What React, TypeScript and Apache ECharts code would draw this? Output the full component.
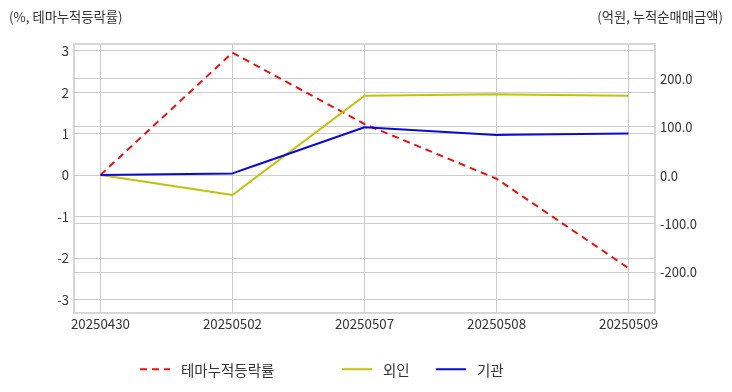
import React, { useEffect, useRef } from "react";
import * as echarts from "echarts";

const categories = ["20250430", "20250502", "20250507", "20250508", "20250509"];
const themeRate = [0, 2.95, 1.23, -0.09, -2.25];
const foreignNet = [0, -41, 164, 167, 164];
const instNet = [0, 3.5, 99, 83, 86];
const leftTicks = [-3, -2, -1, 0, 1, 2, 3];
const rightTicks = [-200, -100, 0, 100, 200];
const xTicks = [0, 1, 2, 3, 4];

const FONT = "'Noto Sans CJK KR', 'Noto Sans', sans-serif";

export default function App() {
  const ref = useRef<HTMLDivElement>(null);
  useEffect(() => {
    if (!ref.current) return;
    const chart = echarts.init(ref.current, undefined, { renderer: "svg" });
    const toPairs = (arr: number[]) => arr.map((v, i) => [i, v]);
    const legendBase = {
      top: 357,
      itemWidth: 30,
      itemHeight: 12,
      itemGap: 10,
      itemStyle: { opacity: 0 },
      textStyle: { fontSize: 14.5, color: "#333", fontFamily: FONT, padding: [0, 0, 0, 6] },
    };
    chart.setOption({
      animation: false,
      textStyle: { fontFamily: FONT },
      title: [
        {
          text: "(%, 테마누적등락률)",
          left: 4,
          top: 5,
          textStyle: { fontSize: 13.3, fontWeight: "normal", color: "#333", fontFamily: FONT },
        },
        {
          text: "(억원, 누적순매매금액)",
          right: 4,
          top: 5,
          textStyle: { fontSize: 13.3, fontWeight: "normal", color: "#333", fontFamily: FONT },
        },
      ],
      grid: {
        left: 74,
        right: 77,
        top: 44,
        bottom: 79,
        show: true,
        borderColor: "#d6d6d6",
        borderWidth: 2,
      },
      legend: [
        { ...legendBase, data: ["테마누적등락률"], left: 134 },
        { ...legendBase, data: ["외인"], left: 336 },
        { ...legendBase, data: ["기관"], left: 430 },
      ],
      xAxis: {
        type: "value",
        min: -0.2,
        max: 4.2,
        axisLine: { show: false },
        axisTick: { show: false, customValues: xTicks },
        splitLine: { show: true, lineStyle: { color: "#cccccc", width: 1 } },
        axisLabel: {
          customValues: xTicks,
          formatter: (v: number) => categories[Math.round(v)] ?? "",
          fontSize: 13.3,
          color: "#333",
          margin: 4,
          fontFamily: FONT,
        },
      },
      yAxis: [
        {
          type: "value",
          min: -3.33,
          max: 3.16,
          axisLine: { show: false },
          axisTick: { show: false, customValues: leftTicks },
          splitLine: { show: true, lineStyle: { color: "#cccccc", width: 1 } },
          axisLabel: {
            customValues: leftTicks,
            formatter: (v: number) => String(Math.round(v)),
            fontSize: 13,
            color: "#333",
            margin: 5,
            fontFamily: FONT,
          },
        },
        {
          type: "value",
          min: -285,
          max: 271,
          position: "right",
          axisLine: { show: false },
          axisTick: { show: false, customValues: rightTicks },
          splitLine: { show: true, lineStyle: { color: "#cccccc", width: 1 } },
          axisLabel: {
            customValues: rightTicks,
            formatter: (v: number) => v.toFixed(1),
            fontSize: 13,
            color: "#333",
            margin: 5,
            fontFamily: FONT,
          },
        },
      ],
      series: [
        {
          name: "테마누적등락률",
          type: "line",
          yAxisIndex: 0,
          data: toPairs(themeRate),
          symbol: "none",
          color: "#e31414",
          lineStyle: { color: "#e31414", width: 2, type: [7, 5] },
        },
        {
          name: "외인",
          type: "line",
          yAxisIndex: 1,
          data: toPairs(foreignNet),
          symbol: "none",
          color: "#c2c20a",
          lineStyle: { color: "#c2c20a", width: 2 },
        },
        {
          name: "기관",
          type: "line",
          yAxisIndex: 1,
          data: toPairs(instNet),
          symbol: "none",
          color: "#0a0ad6",
          lineStyle: { color: "#0a0ad6", width: 2 },
        },
      ],
    });
    return () => chart.dispose();
  }, []);
  return <div ref={ref} style={{ width: 732, height: 392, position: "fixed", left: 0, top: 0 }} />;
}
